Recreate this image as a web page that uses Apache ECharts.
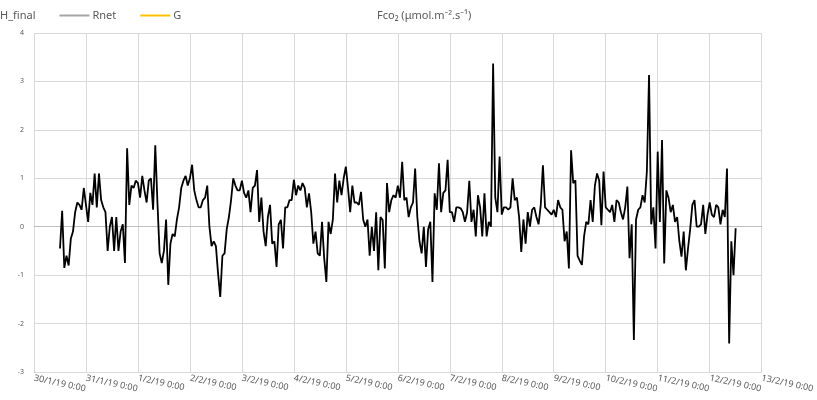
<!DOCTYPE html>
<html>
<head>
<meta charset="utf-8">
<script src="https://cdn.jsdelivr.net/npm/echarts@6/dist/echarts.min.js"></script>
<style>
html,body{margin:0;padding:0;background:#fff;}
#c{width:817px;height:400px;}
</style>
</head>
<body>
<div id="c"></div>
<script>
// Tick labels of the time axis (one per day)
const tickLabels = ['30/1/19 0:00','31/1/19 0:00','1/2/19 0:00','2/2/19 0:00','3/2/19 0:00','4/2/19 0:00','5/2/19 0:00','6/2/19 0:00','7/2/19 0:00','8/2/19 0:00','9/2/19 0:00','10/2/19 0:00','11/2/19 0:00','12/2/19 0:00','13/2/19 0:00'];
const legendNames = ['H_final','Rnet','G'];
// hourly samples, first sample at 30/1/19 12:00
const startHour = 12;
const stepHours = 1;
const fco2 = [
 -0.45,0.33,-0.85,-0.6,-0.8,-0.25,-0.1,0.3,0.5,0.45,0.35,0.8,
 0.45,0.1,0.7,0.45,1.1,0.4,1.1,0.55,0.4,0.3,-0.5,0.0,0.2,-0.5,0.2,-0.5,-0.1,0.05,-0.75,1.62,0.45,0.85,0.8,0.95,
 0.9,0.6,1.05,0.75,0.5,0.95,1.0,0.35,1.68,0.5,-0.55,-0.75,-0.5,0.15,-1.2,-0.35,-0.15,-0.2,0.15,0.4,0.8,0.95,1.05,0.85,
 1.0,1.28,0.75,0.55,0.4,0.4,0.55,0.6,0.85,0.0,-0.4,-0.3,-0.4,-0.97,-1.45,-0.6,-0.55,-0.05,0.2,0.55,1.0,0.85,0.75,0.75,
 0.95,0.7,0.6,0.75,0.3,0.8,0.85,1.17,0.1,0.6,-0.1,-0.4,0.2,0.45,-0.35,-0.3,-0.83,0.05,0.14,-0.45,0.4,0.4,0.55,0.55,
 0.97,0.65,0.85,0.75,0.9,0.8,0.4,0.69,0.3,-0.35,-0.1,-0.55,-0.6,0.1,-0.65,-1.14,0.1,-0.15,0.15,1.1,0.5,0.95,0.65,1.0,
 1.24,0.8,0.3,0.85,0.5,0.5,0.45,0.72,0.15,0.0,0.15,-0.6,0.0,-0.5,0.3,-0.9,0.2,0.14,-0.86,0.9,0.3,0.55,0.65,0.6,
 0.85,0.6,1.34,0.55,0.6,0.2,0.4,0.5,1.2,0.2,-0.3,-0.55,0.0,-0.83,-0.05,0.1,-1.14,0.69,0.35,1.31,0.3,0.7,0.75,1.38,
 0.3,0.3,0.1,0.4,0.4,0.38,0.3,0.1,0.3,0.95,0.1,0.35,-0.2,0.65,0.4,-0.2,0.69,-0.2,0.1,0.0,3.37,0.6,0.3,1.45,
 0.25,0.4,0.4,0.35,0.4,1.0,0.55,0.6,0.2,-0.52,0.15,-0.35,0.3,0.0,0.35,0.4,0.2,0.05,0.45,1.27,0.4,0.35,0.3,0.25,
 0.35,0.2,0.55,0.4,0.35,-0.3,-0.1,-0.86,1.58,0.9,0.96,-0.6,-0.7,-0.79,-0.2,0.1,0.05,0.55,0.1,0.85,1.1,0.95,0.03,1.14,
 0.4,0.35,0.3,0.45,0.1,0.55,0.5,0.3,0.15,0.4,0.83,-0.65,0.05,-2.34,0.15,0.35,0.4,0.65,0.5,1.14,3.13,0.05,0.4,-0.45,
 1.55,0.1,1.79,-0.76,0.75,0.6,0.3,0.45,0.1,0.2,-0.3,-0.62,-0.1,-0.9,-0.45,-0.05,0.45,0.55,0.0,0.0,0.05,0.45,-0.15,0.25,
 0.5,0.25,0.2,0.45,0.4,0.05,0.35,0.2,1.2,-2.41,-0.3,-1.0,-0.03
];

const chart = echarts.init(document.getElementById('c'), null, {renderer:'canvas'});
const txt = '#595959';
const grid = '#d9d9d9';
const font = 'Noto Sans';
chart.setOption({
  animation:false,
  backgroundColor:'#fff',
  title:{
    text:'Fco\u2082 (\u03bcmol.m\u207b\u00b2.s\u207b\u00b9)',
    left:372, top:5,
    textStyle:{fontFamily:font, fontSize:11, fontWeight:'normal', color:txt}
  },
  legend:{
    data:legendNames,
    left:-38, top:5,
    icon:'rect', itemWidth:30, itemHeight:2, itemGap:24,
    textStyle:{fontFamily:font, fontSize:11, color:txt, padding:[0,0,0,-2]}
  },
  grid:{left:34, right:55, top:33, bottom:28, containLabel:false},
  xAxis:{
    type:'value', min:0, max:336, interval:24,
    axisLine:{show:true, lineStyle:{color:'#bfbfbf', width:1}},
    axisTick:{show:false},
    splitLine:{show:true, lineStyle:{color:grid, width:1}},
    axisLabel:{
      rotate:-12, fontFamily:font, fontSize:9, color:txt, margin:6,
      formatter:function(v){ return tickLabels[Math.round(v/24)] || ''; }
    }
  },
  yAxis:{
    type:'value', min:-3, max:4, interval:1,
    axisLine:{show:false}, axisTick:{show:false},
    splitLine:{show:true, lineStyle:{color:grid, width:1}},
    axisLabel:{fontFamily:font, fontSize:7, color:txt, margin:10}
  },
  series:[
    {name:'H_final', type:'line', data:[], itemStyle:{color:'#5b9bd5'}, lineStyle:{color:'#5b9bd5'}},
    {name:'Rnet', type:'line', data:[], itemStyle:{color:'#a5a5a5'}, lineStyle:{color:'#a5a5a5'}},
    {name:'G', type:'line', data:[], itemStyle:{color:'#ffc000'}, lineStyle:{color:'#ffc000'}},
    {name:'Fco2', type:'line', showSymbol:false, symbol:'none',
     lineStyle:{color:'#000', width:1.8},
     data:fco2.map(function(v,i){ return [startHour + i*stepHours, v]; })}
  ]
});
</script>
</body>
</html>
